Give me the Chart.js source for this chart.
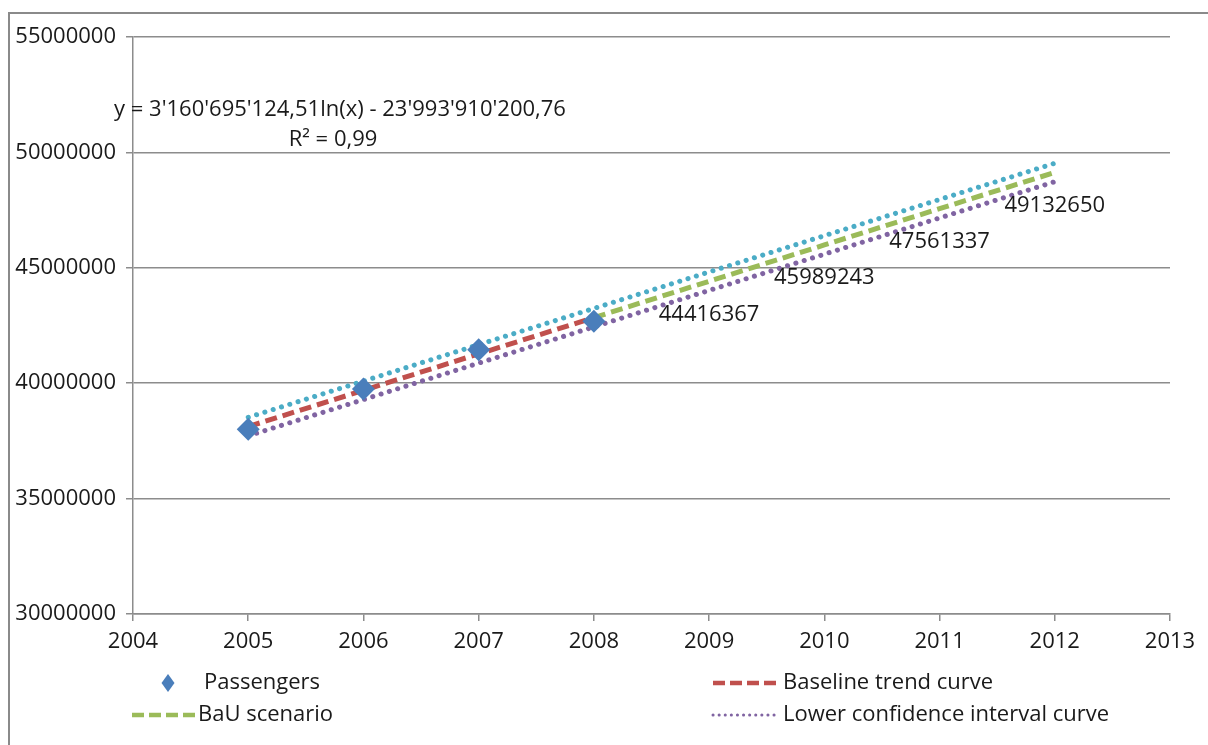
<!DOCTYPE html>
<html>
<head>
<meta charset="utf-8">
<script src="https://cdn.jsdelivr.net/npm/chart.js@4.4.1/dist/chart.umd.min.js"></script>
<style>
html, body { margin: 0; padding: 0; background: #fff; overflow: hidden; }
#wrap { position: relative; width: 1208px; height: 745px; }
#frame { position: absolute; left: 8px; top: 12px; width: 1300px; height: 900px; border: 2px solid #8a8a8a; }
#chart { position: absolute; left: 0; top: 0; }
</style>
</head>
<body>
<div id="wrap">
  <div id="frame"></div>
  <canvas id="chart" width="1208" height="745"></canvas>
</div>
<script>
// values
var passengerYears = [2005, 2006, 2007, 2008];
var passengers = [38000000, 39750000, 41450000, 42680000];

var baselineYears = [2005, 2006, 2007, 2008];
var baseline = [38120000, 39690000, 41270000, 42840000];

var bauYears = [2008, 2009, 2010, 2011, 2012];
var bau = [42840000, 44416367, 45989243, 47561337, 49132650];

var ciYears = [2005, 2006, 2007, 2008, 2009, 2010, 2011, 2012];
var upperCI = [38520000, 40090000, 41670000, 43240000, 44820000, 46390000, 47960000, 49530000];
var lowerCI = [37720000, 39290000, 40870000, 42440000, 44020000, 45590000, 47160000, 48730000];

var xMin = 2004, xMax = 2013;
var yMin = 30000000, yMax = 55000000, yStep = 5000000;

var equationLines = ["y = 3'160'695'124,51ln(x) - 23'993'910'200,76", 'R\u00b2 = 0,99'];

var FONT = "'Open Sans', 'Noto Sans', sans-serif";
var FONT_SIZE = 22;
var TEXT = '#1a1a1a';
var GRID = '#8c8c8c';

function points(xs, ys) {
    return xs.map(function (x, i) { return { x: x, y: ys[i] }; });
}

// legend is laid out in two columns like the original, drawn here by hand
var legendSlots = [
    { ds: 0, sx: 160, sw: 16, tx: 204, y: 683 },
    { ds: 1, sx: 713, sw: 67, tx: 783, y: 683 },
    { ds: 2, sx: 132, sw: 65, tx: 198, y: 715 },
    { ds: 4, sx: 713, sw: 67, tx: 783, y: 715 }
];

var extras = {
    id: 'extras',
    afterDatasetsDraw: function (chart) {
        var ctx = chart.ctx;
        ctx.save();
        ctx.font = FONT_SIZE + 'px ' + FONT;
        ctx.fillStyle = TEXT;
        ctx.textAlign = 'center';
        ctx.textBaseline = 'middle';

        // value labels under the BaU points (not the joining point)
        var meta = chart.getDatasetMeta(2);
        meta.data.forEach(function (pt, i) {
            if (i === 0) return;
            ctx.fillText(String(bau[i]), pt.x, pt.y + 33);
        });

        // trend line equation
        ctx.fillText(equationLines[0], 340, 110);
        ctx.fillText(equationLines[1], 333, 140);

        // legend
        ctx.textAlign = 'left';
        legendSlots.forEach(function (s) {
            var ds = chart.data.datasets[s.ds];
            if (ds.showLine === false) {
                ctx.fillStyle = ds.backgroundColor;
                ctx.beginPath();
                var cx = s.sx + s.sw / 2;
                ctx.moveTo(cx, s.y - 9);
                ctx.lineTo(cx + 6.5, s.y);
                ctx.lineTo(cx, s.y + 9);
                ctx.lineTo(cx - 6.5, s.y);
                ctx.closePath();
                ctx.fill();
            } else {
                ctx.strokeStyle = ds.borderColor;
                ctx.lineCap = ds.borderCapStyle || 'butt';
                if (ds.borderCapStyle === 'round') {
                    ctx.lineWidth = 3;
                    ctx.setLineDash([0.1, 6]);
                } else {
                    ctx.lineWidth = 4.5;
                    ctx.setLineDash([12, 5]);
                }
                ctx.beginPath();
                ctx.moveTo(s.sx, s.y);
                ctx.lineTo(s.sx + s.sw, s.y);
                ctx.stroke();
                ctx.setLineDash([]);
            }
            ctx.fillStyle = TEXT;
            ctx.fillText(ds.label, s.tx, s.y);
        });
        ctx.restore();
    }
};

var chart = new Chart(document.getElementById('chart'), {
    type: 'line',
    data: {
        datasets: [
            {
                label: 'Passengers',
                data: points(passengerYears, passengers),
                showLine: false,
                pointStyle: 'rectRot',
                pointRadius: 11.5,
                pointBackgroundColor: '#4a7ebb',
                pointBorderWidth: 0,
                backgroundColor: '#4a7ebb',
                order: 0
            },
            {
                label: 'Baseline trend curve',
                data: points(baselineYears, baseline),
                borderColor: '#c0504d',
                borderWidth: 5,
                borderDash: [12, 6],
                pointRadius: 0,
                order: 2
            },
            {
                label: 'BaU scenario',
                data: points(bauYears, bau),
                borderColor: '#9bbb59',
                borderWidth: 5,
                borderDash: [12, 6],
                pointRadius: 0,
                order: 2
            },
            {
                label: 'Upper confidence interval curve',
                data: points(ciYears, upperCI),
                borderColor: '#4bacc6',
                borderWidth: 5,
                borderDash: [0.1, 8.6],
                borderCapStyle: 'round',
                pointRadius: 0,
                order: 3
            },
            {
                label: 'Lower confidence interval curve',
                data: points(ciYears, lowerCI),
                borderColor: '#8064a2',
                borderWidth: 5,
                borderDash: [0.1, 8.6],
                borderCapStyle: 'round',
                pointRadius: 0,
                order: 3
            }
        ]
    },
    options: {
        responsive: false,
        animation: false,
        devicePixelRatio: 1,
        layout: { padding: { top: 37, right: 38, left: 0, bottom: 0 } },
        plugins: {
            legend: { display: false },
            tooltip: { enabled: false }
        },
        scales: {
            x: {
                type: 'linear',
                min: xMin,
                max: xMax,
                afterFit: function (s) { s.height = 131; },
                ticks: {
                    stepSize: 1,
                    padding: 8,
                    color: TEXT,
                    font: { family: FONT, size: FONT_SIZE },
                    callback: function (v) { return String(v); }
                },
                grid: {
                    drawOnChartArea: false,
                    tickLength: 7,
                    color: GRID,
                    lineWidth: 1.5
                },
                border: { color: GRID, width: 1.5 }
            },
            y: {
                min: yMin,
                max: yMax,
                afterFit: function (s) { s.width = 133; },
                ticks: {
                    stepSize: yStep,
                    padding: 10,
                    color: TEXT,
                    font: { family: FONT, size: FONT_SIZE },
                    callback: function (v) { return String(v); }
                },
                grid: {
                    tickLength: 7,
                    color: GRID,
                    lineWidth: 1.5
                },
                border: { color: GRID, width: 1.5 }
            }
        }
    },
    plugins: [extras]
});
</script>
</body>
</html>
